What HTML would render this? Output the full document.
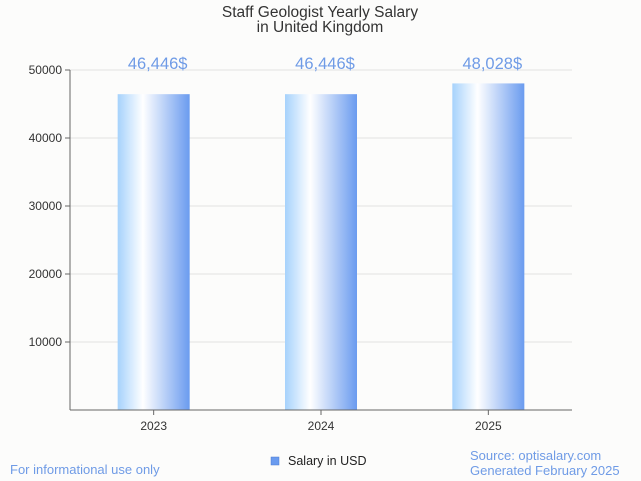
<!DOCTYPE html>
<html><head><meta charset="utf-8"><style>
body{margin:0;background:#fcfcfb;font-family:"Liberation Sans",sans-serif;}
svg{display:block}
</style></head><body>
<svg id="chart" width="641" height="481" xmlns="http://www.w3.org/2000/svg">
<defs><linearGradient id="bg" x1="0" x2="1" y1="0" y2="0">
<stop offset="0" stop-color="#a6d2fc"/><stop offset="0.35" stop-color="#ffffff"/><stop offset="1" stop-color="#6a9bef"/>
</linearGradient></defs>
<rect width="641" height="481" fill="#fcfcfb"/>
<text x="320" y="17" text-anchor="middle" font-size="15.5" fill="#333">Staff Geologist Yearly Salary</text>
<text x="320" y="32" text-anchor="middle" font-size="15.5" fill="#333">in United Kingdom</text>
<g id="grid"></g><g id="bars"></g>
<line x1="70" y1="70" x2="70" y2="410" stroke="#666"/>
<line x1="70" y1="410" x2="572" y2="410" stroke="#666"/>
<rect x="271" y="457" width="8" height="8" fill="#6a9bef" stroke="#4a7bd0" stroke-width="0.5"/>
<text x="288" y="465" font-size="12.5" fill="#222">Salary in USD</text>
<text x="10" y="474" font-size="13" fill="#6f9be6">For informational use only</text>
<text x="470" y="460" font-size="13" fill="#6f9be6">Source: optisalary.com</text>
<text x="470" y="475" font-size="13" fill="#6f9be6">Generated February 2025</text>
</svg>
<script>
const years=["2023","2024","2025"];
const salaries=[46446,46446,48028];
const yTicks=[10000,20000,30000,40000,50000];
const valueLabels=["46,446$","46,446$","48,028$"];
const NS="http://www.w3.org/2000/svg";
const x0=70,x1=572,yBase=410,yTop=70,yMax=50000;
const y=v=>yBase-(v/yMax)*(yBase-yTop);
const band=(x1-x0)/years.length;
const xc=i=>x0+band*(i+0.5);
function mk(t,a,p){const e=document.createElementNS(NS,t);for(const k in a)e.setAttribute(k,a[k]);p.appendChild(e);return e;}
const grid=document.getElementById('grid'),bars=document.getElementById('bars');
yTicks.forEach(v=>{
 const l=mk('line',{x1:x0,x2:x1,y1:y(v),y2:y(v),stroke:'#e2e2e2'},grid);
 
 
 const tk=mk('line',{x1:x0-5,x2:x0,y1:y(v),y2:y(v),stroke:'#666'},grid);
 
 
 const t=mk('text',{x:x0-8,y:y(v)+4,'text-anchor':'end','font-size':12,fill:'#333'},grid);
 t.textContent=v;
 
 
});
const bw=72;
years.forEach((yr,i)=>{
 const r=mk('rect',{x:xc(i)-bw/2,y:y(salaries[i]),width:bw,height:yBase-y(salaries[i]),fill:'url(#bg)'},bars);
 
 
 const vl=mk('text',{x:xc(i)+4,y:y(50000)-1,'text-anchor':'middle','font-size':16.5,fill:'#6f9be6'},bars);
 vl.textContent=valueLabels[i];
 
 
 const tk=mk('line',{x1:xc(i),x2:xc(i),y1:yBase,y2:yBase+5,stroke:'#666'},bars);
 
 
 const xl=mk('text',{x:xc(i),y:430,'text-anchor':'middle','font-size':12,fill:'#333'},bars);
 xl.textContent=yr;
 
 
});
</script>
</body></html>
